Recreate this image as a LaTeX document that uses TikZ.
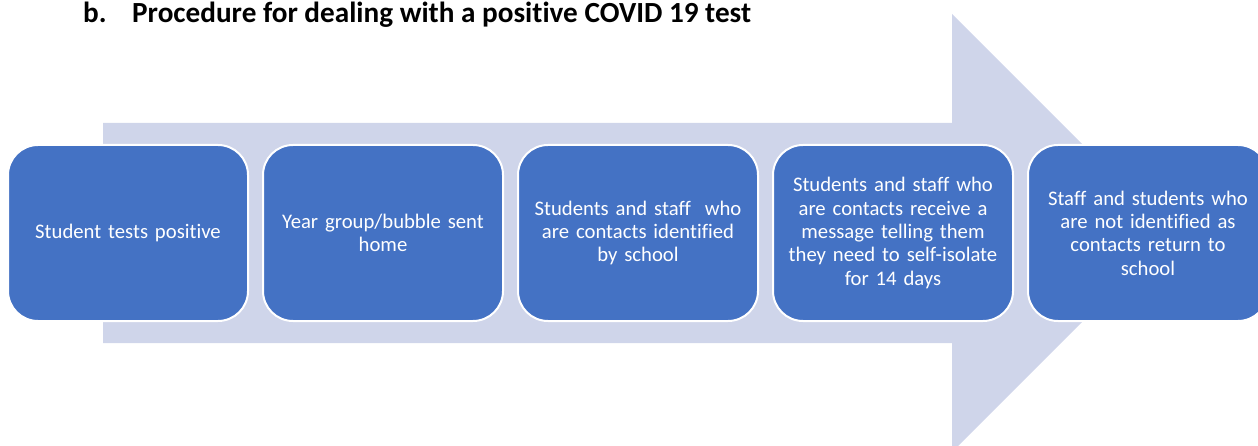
\documentclass[tikz,border=0pt]{standalone}
\usepackage{fontspec}
\setmainfont{Carlito}[Ligatures=NoCommon]
\usetikzlibrary{positioning}
\definecolor{stepblue}{HTML}{4472C4}
\definecolor{arrowgrey}{HTML}{CFD5EA}
\tikzset{
    stepbox/.style={rectangle, rounded corners=30pt, fill=stepblue, draw=white, line width=2pt,
        minimum width=240pt, minimum height=176pt, text width=224pt, align=center,
        text=white, font=\fontsize{20.7}{23.3}\selectfont, inner sep=0pt},
}

\begin{document}
\begin{tikzpicture}[x=1pt, y=-1pt]
        \useasboundingbox (0, 0) rectangle (1258, 446);

        % big background arrow
        \fill [arrowgrey] (103, 123) -- (952, 123) -- (952, 14) -- (1171, 233)
            -- (952, 452) -- (952, 343) -- (103, 343) -- cycle;

        \node [anchor=base west, inner sep=0pt, font=\fontsize{29.2}{34}\selectfont\bfseries] (title) at (83, 23)
            {\makebox[49pt][l]{b.}Procedure for dealing with a positive COVID 19 test};

        % the five steps
        \node [stepbox] (positive) at (128, 233) {Student tests positive};
        \node [stepbox, right=13pt of positive] (home) {Year group/bubble sent\\home};
        \node [stepbox, right=13pt of home] (identified) {Students and staff\ \ who\\are contacts identified\\by school};
        \node [stepbox, right=13pt of identified] (message) {Students and staff who\\are contacts receive a\\message telling them\\they need to self-isolate\\for 14 days};
        \node [stepbox, right=13pt of message] (return) {Staff and students who\\are not identified as\\contacts return to\\school};
\end{tikzpicture}
\end{document}
